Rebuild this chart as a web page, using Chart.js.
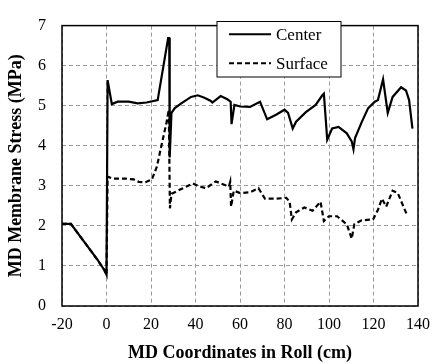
<!DOCTYPE html>
<html>
<head>
    <title>MD Membrane Stress</title>
    <meta charset="UTF-8">
    <script src="https://cdn.jsdelivr.net/npm/chart.js@4.4.0/dist/chart.umd.min.js"></script>
    <style>
        body { margin: 0; background: #fff; }
    </style>
</head>
<body>
    <canvas id="myChart" width="439" height="364"></canvas>
    <script>
        // MD coordinate (cm) and stress (MPa)
        let centerX = [-20, -16, -12, -8, -4, -1, 0, 0.5, 2.4, 5, 10, 14, 18, 23, 27.7, 28.2, 28.4, 29.2, 30.7, 33.6, 38, 41, 44, 46.9, 47.6, 51.3, 54.3, 55.8, 56.2, 57.5, 60.1, 64.5, 69, 72.2, 76.4, 80, 81.6, 83.7, 85.2, 89.6, 94, 97, 97.7, 99.2, 101.4, 104.3, 108, 110.2, 111, 111.7, 114.7, 117.6, 120.6, 122, 124.3, 126.4, 128.6, 132.4, 134.6, 136, 137.5];
        let centerY = [2.05, 2.05, 1.75, 1.45, 1.15, 0.9, 0.78, 5.64, 5.04, 5.1, 5.1, 5.06, 5.08, 5.14, 6.69, 6.69, 3.71, 4.82, 4.94, 5.06, 5.22, 5.26, 5.2, 5.12, 5.08, 5.24, 5.16, 5.1, 4.54, 5.02, 4.98, 4.97, 5.1, 4.66, 4.78, 4.9, 4.82, 4.43, 4.6, 4.84, 5.02, 5.26, 5.3, 4.15, 4.43, 4.47, 4.31, 4.11, 3.91, 4.19, 4.59, 4.94, 5.1, 5.14, 5.66, 4.82, 5.22, 5.46, 5.38, 5.14, 4.43];

        let surfaceX = [-20, -16, -12, -8, -4, -1, 0, 0.5, 2.7, 8.6, 12.3, 14.5, 17.5, 20.4, 22.6, 24.8, 27, 28, 28.5, 29.2, 33.6, 38.8, 41, 44.7, 49.1, 55, 55.6, 56, 57.2, 60.1, 64.5, 68.3, 71.2, 76.4, 80.8, 82.3, 83.3, 85.2, 88.9, 92.6, 96.2, 97.7, 99.9, 103.6, 108, 110.2, 111.4, 114.7, 119.8, 122, 123.8, 125.7, 128.6, 130.9, 135.3];
        let surfaceY = [2.05, 2.05, 1.75, 1.45, 1.15, 0.9, 0.78, 3.23, 3.18, 3.18, 3.16, 3.1, 3.09, 3.16, 3.47, 4.03, 4.59, 4.9, 2.44, 2.8, 2.92, 3.06, 3.0, 2.94, 3.11, 2.98, 3.1, 2.48, 2.88, 2.82, 2.84, 2.94, 2.68, 2.68, 2.7, 2.6, 2.16, 2.34, 2.46, 2.38, 2.6, 2.12, 2.24, 2.24, 2.04, 1.68, 2.04, 2.14, 2.16, 2.4, 2.68, 2.48, 2.88, 2.82, 2.24];

        let seriesNames = ['Center', 'Surface'];
        let xTicks = [-20, 0, 20, 40, 60, 80, 100, 120, 140];
        let yTicks = [0, 1, 2, 3, 4, 5, 6, 7];

        function toPoints(xs, ys) {
            return xs.map(function (x, i) { return {x: x, y: ys[i]}; });
        }

        const serif = 'Liberation Serif, Times New Roman, serif';

        // black frame round the plot area plus the boxed legend
        const frameAndLegend = {
            id: 'frameAndLegend',
            afterDraw(chart) {
                const ctx = chart.ctx;
                const a = chart.chartArea;
                ctx.save();
                ctx.strokeStyle = '#000';
                ctx.lineWidth = 1.5;
                ctx.setLineDash([]);
                ctx.strokeRect(a.left, a.top, a.right - a.left, a.bottom - a.top);

                const bx = 217, by = 21.5, bw = 124, bh = 55.5;
                ctx.fillStyle = '#fff';
                ctx.fillRect(bx, by, bw, bh);
                ctx.lineWidth = 1;
                ctx.strokeRect(bx, by, bw, bh);
                ctx.font = '17px ' + serif;
                ctx.textBaseline = 'middle';
                ctx.fillStyle = '#000';
                chart.data.datasets.forEach(function (ds, i) {
                    const ly = 34.3 + i * 29;
                    ctx.beginPath();
                    ctx.lineWidth = 2;
                    ctx.setLineDash(ds.borderDash || []);
                    ctx.moveTo(229, ly);
                    ctx.lineTo(271, ly);
                    ctx.stroke();
                    ctx.setLineDash([]);
                    ctx.fillText(ds.label, 276, ly + 1);
                });
                ctx.restore();
            }
        };

        var ctx = document.getElementById('myChart').getContext('2d');
        var myChart = new Chart(ctx, {
            type: 'line',
            data: {
                datasets: [{
                    label: seriesNames[0],
                    data: toPoints(centerX, centerY),
                    borderColor: '#000',
                    borderWidth: 2.2,
                    pointRadius: 0,
                    tension: 0,
                    fill: false
                }, {
                    label: seriesNames[1],
                    data: toPoints(surfaceX, surfaceY),
                    borderColor: '#000',
                    borderWidth: 2.2,
                    borderDash: [5, 3],
                    pointRadius: 0,
                    tension: 0,
                    fill: false
                }]
            },
            options: {
                responsive: false,
                animation: false,
                layout: { padding: { top: 12, right: 15, left: 0, bottom: 0 } },
                plugins: {
                    legend: { display: false },
                    tooltip: { enabled: false }
                },
                scales: {
                    x: {
                        type: 'linear',
                        min: xTicks[0],
                        max: xTicks[xTicks.length - 1],
                        afterBuildTicks: function (s) { s.ticks = xTicks.map(function (v) { return {value: v}; }); },
                        afterFit: function (s) { s.height = 58; },
                        grid: { color: '#999', lineWidth: 1, drawTicks: false },
                        border: { display: false, dash: [4, 3] },
                        ticks: { color: '#000', padding: 9, maxRotation: 0, font: { family: serif, size: 16 } },
                        title: {
                            display: true,
                            text: 'MD Coordinates in Roll (cm)',
                            color: '#000',
                            padding: { top: 0, bottom: 0 },
                            font: { family: serif, size: 18, weight: 'bold' }
                        }
                    },
                    y: {
                        min: yTicks[0],
                        max: yTicks[yTicks.length - 1],
                        afterBuildTicks: function (s) { s.ticks = yTicks.map(function (v) { return {value: v}; }); },
                        afterFit: function (s) { s.width = 62; },
                        grid: { color: '#999', lineWidth: 1, drawTicks: false },
                        border: { display: false, dash: [4, 3] },
                        ticks: { color: '#000', padding: 16, font: { family: serif, size: 16 } },
                        title: {
                            display: true,
                            text: 'MD Membrane Stress (MPa)',
                            color: '#000',
                            padding: { top: 6, bottom: 0 },
                            font: { family: serif, size: 18, weight: 'bold' }
                        }
                    }
                }
            },
            plugins: [frameAndLegend]
        });
    </script>
</body>
</html>
